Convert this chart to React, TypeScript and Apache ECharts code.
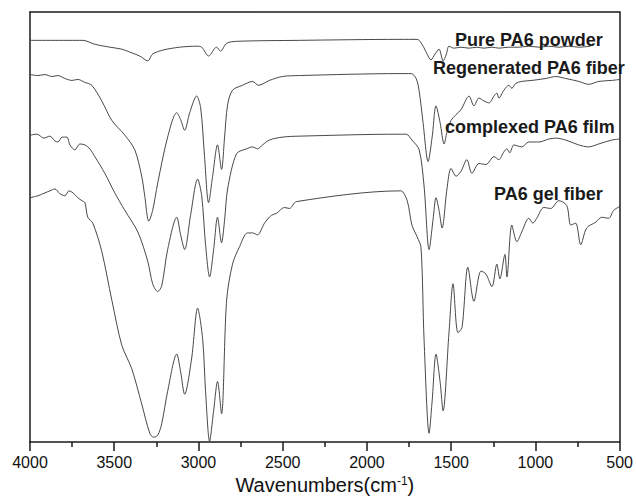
import React, { useEffect, useRef } from "react";
import * as echarts from "echarts";

// [wavenumber (cm-1), transmittance (arbitrary, offset)]
const purePowder: [number, number][] = [
  [4000, 411], [3686, 411], [3615, 407], [3526, 404], [3455, 402], [3408, 399], [3349, 395],
  [3301, 390], [3272, 397], [3212, 401], [3112, 404], [3011, 405], [2981, 404], [2940, 395],
  [2893, 404], [2869, 400], [2833, 408], [2774, 410], [2401, 411], [1809, 412], [1702, 412],
  [1673, 407], [1643, 397], [1620, 391], [1596, 397], [1572, 402], [1548, 390], [1530, 396],
  [1513, 405], [1483, 403], [1442, 404], [1394, 403], [1347, 404], [1306, 403], [1258, 404],
  [1217, 403], [1158, 404], [1098, 404], [1039, 405], [980, 404], [921, 405], [861, 404],
  [802, 405], [743, 404], [672, 405],
];

const regeneratedFiber: [number, number][] = [
  [4000, 376], [3953, 375], [3911, 376], [3870, 374], [3834, 375], [3793, 372], [3751, 370],
  [3716, 371], [3674, 368], [3633, 365], [3574, 349], [3514, 329], [3437, 314], [3378, 299],
  [3337, 272], [3319, 252], [3295, 226], [3272, 237], [3242, 265], [3183, 312], [3129, 337],
  [3106, 330], [3082, 319], [3052, 337], [3011, 354], [2987, 342], [2964, 292], [2940, 245],
  [2916, 272], [2887, 304], [2863, 279], [2845, 312], [2827, 345], [2798, 360], [2739, 365],
  [2679, 369], [2644, 365], [2579, 370], [2502, 374], [2401, 375], [1809, 377], [1738, 377],
  [1708, 372], [1690, 359], [1667, 327], [1637, 287], [1613, 312], [1590, 344], [1566, 327],
  [1542, 305], [1525, 317], [1501, 329], [1471, 335], [1442, 340], [1394, 354], [1365, 344],
  [1335, 352], [1306, 349], [1276, 347], [1246, 354], [1229, 357], [1217, 352], [1187, 360],
  [1158, 365], [1140, 362], [1116, 367], [1081, 369], [1021, 370], [938, 372], [879, 374],
  [820, 372], [743, 369], [684, 366], [624, 369], [547, 370], [500, 371],
];

const complexedFilm: [number, number][] = [
  [4000, 314], [3959, 315], [3917, 311], [3882, 313], [3852, 308], [3834, 307], [3810, 312],
  [3781, 312], [3763, 304], [3734, 299], [3704, 305], [3674, 304], [3645, 300], [3615, 292],
  [3556, 275], [3497, 255], [3437, 237], [3360, 215], [3301, 185], [3272, 162], [3242, 154],
  [3218, 160], [3183, 197], [3129, 230], [3106, 212], [3082, 197], [3047, 232], [3005, 269],
  [2981, 252], [2958, 202], [2934, 169], [2910, 197], [2887, 230], [2863, 204], [2845, 227],
  [2827, 259], [2774, 295], [2715, 300], [2679, 302], [2650, 300], [2620, 304], [2579, 309],
  [2502, 312], [2401, 313], [1809, 315], [1767, 315], [1733, 309], [1690, 299], [1661, 262],
  [1631, 197], [1608, 227], [1590, 250], [1572, 237], [1554, 219], [1525, 259], [1501, 280],
  [1471, 272], [1442, 277], [1407, 289], [1377, 275], [1335, 285], [1294, 284], [1246, 292],
  [1217, 289], [1187, 297], [1169, 300], [1152, 296], [1128, 304], [1081, 302], [1039, 307],
  [980, 307], [921, 310], [879, 311], [820, 309], [743, 304], [684, 302], [624, 305],
  [547, 309], [500, 310],
];

const gelFiber: [number, number][] = [
  [4000, 250], [3953, 252], [3911, 255], [3882, 257], [3852, 259], [3822, 254], [3793, 252],
  [3769, 257], [3745, 255], [3716, 250], [3692, 247], [3674, 245], [3657, 230], [3627, 224],
  [3574, 195], [3514, 145], [3455, 99], [3396, 75], [3337, 39], [3289, 9], [3266, 5],
  [3242, 7], [3218, 19], [3183, 52], [3129, 90], [3106, 72], [3082, 49], [3041, 85],
  [3005, 137], [2975, 105], [2958, 52], [2934, 1], [2910, 32], [2887, 62], [2863, 29],
  [2833, 145], [2798, 182], [2756, 200], [2709, 214], [2679, 214], [2650, 212], [2608, 224],
  [2567, 232], [2537, 234], [2490, 240], [2460, 239], [2419, 246], [1809, 257], [1797, 257],
  [1761, 247], [1733, 222], [1702, 210], [1679, 199], [1661, 105], [1631, 9], [1613, 42],
  [1590, 90], [1566, 62], [1548, 32], [1513, 112], [1489, 162], [1460, 112], [1436, 117],
  [1401, 179], [1365, 144], [1323, 175], [1294, 172], [1258, 159], [1229, 182], [1211, 167],
  [1181, 192], [1169, 169], [1140, 222], [1110, 205], [1081, 215], [1039, 229], [1015, 224],
  [992, 229], [950, 240], [909, 239], [861, 247], [814, 242], [790, 222], [761, 224],
  [731, 202], [696, 219], [642, 225], [607, 230], [565, 229], [536, 237], [500, 241],
];

const seriesNames = ["Pure PA6 powder", "Regenerated PA6 fiber", "complexed PA6 film", "PA6 gel fiber"];
const seriesData = [purePowder, regeneratedFiber, complexedFilm, gelFiber];
const xTicks = { min: 500, max: 4000, interval: 500 };

const FONT = "'Liberation Sans', Arial, Helvetica, sans-serif";
const AXIS = "#1a1a1a";
const LINE = "#333333";

export default function App() {
  const ref = useRef<HTMLDivElement>(null);
  useEffect(() => {
    document.body.style.margin = "0";
    if (!ref.current) return;
    const chart = echarts.init(ref.current, undefined, { renderer: "svg" });
    const labelPos = [
      { x: 455, y: 39.5 },
      { x: 433, y: 67.5 },
      { x: 445, y: 127 },
      { x: 494, y: 194 },
    ];
    chart.setOption({
      animation: false,
      backgroundColor: "#ffffff",
      grid: { left: 30, right: 15, top: 12, bottom: 48, containLabel: false },
      xAxis: [
        {
          type: "value",
          position: "bottom",
          inverse: true,
          min: xTicks.min,
          max: xTicks.max,
          interval: xTicks.interval,
          axisLine: { show: true, onZero: false, lineStyle: { color: AXIS, width: 1.5 } },
          axisTick: { show: true, length: 9, lineStyle: { color: AXIS, width: 1.5 } },
          minorTick: { show: true, splitNumber: 2, length: 5, lineStyle: { color: AXIS, width: 1.5 } },
          splitLine: { show: false },
          axisLabel: {
            color: "#111",
            fontSize: 16,
            fontFamily: FONT,
            margin: 12,
            formatter: (v: number) => String(v),
          },
          name: "Wavenumbers(cm{sup|-1})",
          nameLocation: "middle",
          nameGap: 27,
          nameTextStyle: {
            color: "#111",
            fontSize: 20,
            fontFamily: FONT,
            rich: {
              sup: { fontSize: 12, fontFamily: FONT, color: "#111", verticalAlign: "top", lineHeight: 12 },
            },
          },
        },
        {
          type: "value",
          position: "top",
          inverse: true,
          min: xTicks.min,
          max: xTicks.max,
          axisLine: { show: true, onZero: false, lineStyle: { color: AXIS, width: 1.5 } },
          axisTick: { show: false },
          axisLabel: { show: false },
          splitLine: { show: false },
        },
      ],
      yAxis: [
        {
          type: "value",
          position: "left",
          min: 0,
          max: 440,
          axisLine: { show: true, onZero: false, lineStyle: { color: AXIS, width: 1.5 } },
          axisTick: { show: false },
          axisLabel: { show: false },
          splitLine: { show: false },
        },
        {
          type: "value",
          position: "right",
          min: 0,
          max: 440,
          axisLine: { show: true, onZero: false, lineStyle: { color: AXIS, width: 1.5 } },
          axisTick: { show: false },
          axisLabel: { show: false },
          splitLine: { show: false },
        },
      ],
      series: seriesData.map((d, i) => ({
        type: "line",
        name: seriesNames[i],
        data: d,
        xAxisIndex: 0,
        yAxisIndex: 0,
        showSymbol: false,
        smooth: 0.3,
        lineStyle: { color: LINE, width: 0.9 },
      })),
      graphic: seriesNames.map((n, i) => ({
        type: "text",
        x: labelPos[i].x,
        y: labelPos[i].y,
        z: 10,
        style: {
          text: n,
          fill: "#1a1a1a",
          fontSize: 18,
          fontWeight: "bold",
          fontFamily: FONT,
          verticalAlign: "middle",
          align: "left",
        },
      })),
    });
    return () => chart.dispose();
  }, []);
  return <div ref={ref} style={{ width: 636, height: 500 }} />;
}
